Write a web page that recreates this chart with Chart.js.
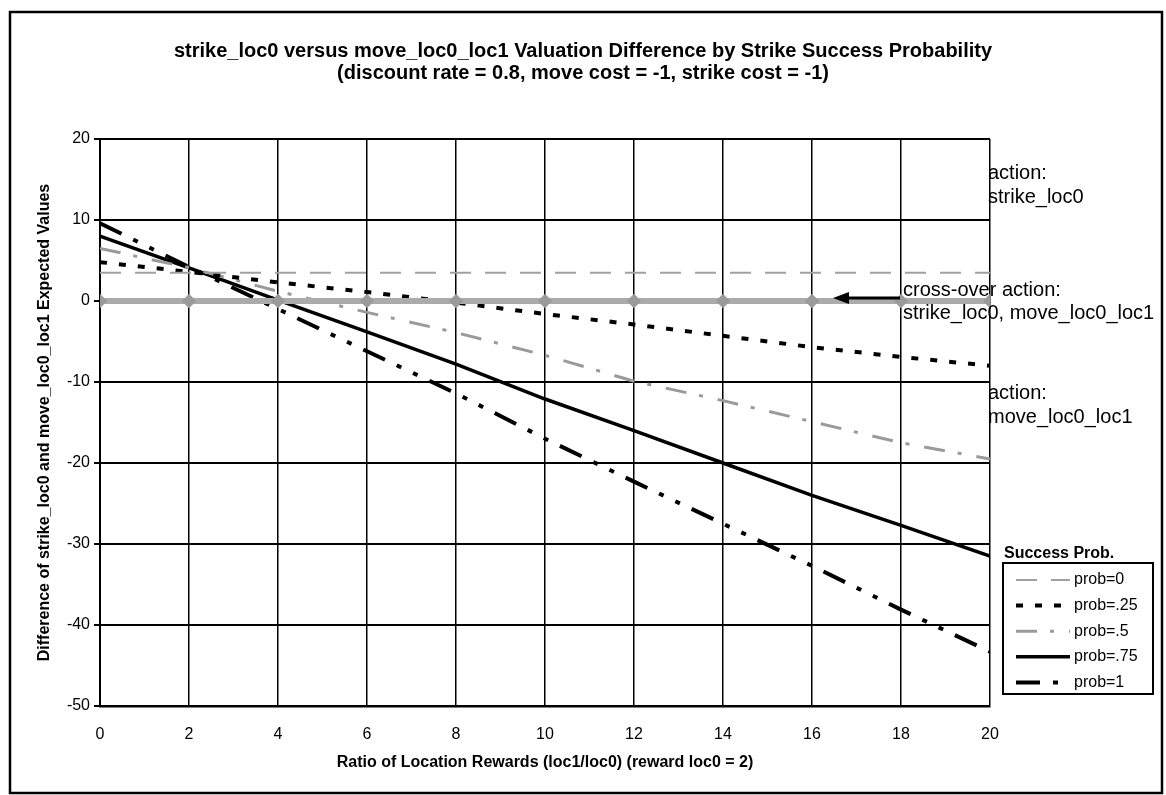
<!DOCTYPE html>
<html>
<head>
<meta charset="utf-8">
<title>strike_loc0 versus move_loc0_loc1</title>
<script src="https://cdn.jsdelivr.net/npm/chart.js@4.4.0/dist/chart.umd.min.js"></script>
<style>
    html, body { margin: 0; padding: 0; background: #fff; }
    #wrap { width: 1166px; height: 795px; }
</style>
</head>
<body>
<div id="wrap"><canvas id="chart" width="1166" height="795"></canvas></div>
<script>
// Ratio of location rewards (x values)
const ratios = [0, 2, 4, 6, 8, 10, 12, 14, 16, 18, 20];

// Valuation difference per strike success probability
const prob0   = [3.5, 3.5, 3.5, 3.5, 3.5, 3.5, 3.5, 3.5, 3.5, 3.5, 3.5];
const prob25  = [4.8, 3.6, 2.3, 1.1, -0.2, -1.6, -2.9, -4.3, -5.7, -6.9, -8.0];
const prob50  = [6.5, 4.1, 1.2, -1.4, -3.9, -6.7, -9.9, -12.3, -14.9, -17.5, -19.5];
const prob75  = [8.0, 4.1, 0.1, -3.8, -7.8, -12.1, -16.0, -20.0, -24.0, -27.7, -31.5];
const prob100 = [9.6, 4.2, -1.0, -6.2, -11.4, -17.0, -22.3, -27.5, -32.7, -38.1, -43.3];
const crossOver = [0, 0, 0, 0, 0, 0, 0, 0, 0, 0, 0];

const xTicks = [0, 2, 4, 6, 8, 10, 12, 14, 16, 18, 20];
const yTicks = [20, 10, 0, -10, -20, -30, -40, -50];

const FONT = '"Liberation Sans", Arial, sans-serif';

function points(values) {
    return ratios.map((r, i) => ({ x: r, y: values[i] }));
}

// Title, annotations, arrow, legend box and outer frame
const decorPlugin = {
    id: 'decor',
    afterDraw(chart) {
        const ctx = chart.ctx;
        ctx.save();
        ctx.fillStyle = '#000';
        ctx.textBaseline = 'middle';

        // title
        ctx.textAlign = 'center';
        ctx.font = 'bold 20px ' + FONT;
        ctx.fillText('strike_loc0 versus move_loc0_loc1 Valuation Difference by Strike Success Probability', 583, 51);
        ctx.fillText('(discount rate = 0.8, move cost = -1, strike cost = -1)', 583, 73);

        // region notes
        ctx.textAlign = 'left';
        ctx.font = '20px ' + FONT;
        ctx.fillText('action:', 988, 173);
        ctx.fillText('strike_loc0', 988, 197);
        ctx.fillText('cross-over action:', 903, 290);
        ctx.fillText('strike_loc0, move_loc0_loc1', 903, 313);
        ctx.fillText('action:', 988, 393);
        ctx.fillText('move_loc0_loc1', 988, 417);

        // arrow
        ctx.strokeStyle = '#000';
        ctx.lineWidth = 3;
        ctx.beginPath();
        ctx.moveTo(900, 298);
        ctx.lineTo(846, 298);
        ctx.stroke();
        ctx.beginPath();
        ctx.moveTo(833, 298);
        ctx.lineTo(849, 292);
        ctx.lineTo(849, 304);
        ctx.closePath();
        ctx.fill();

        // legend
        ctx.font = 'bold 16px ' + FONT;
        ctx.fillText('Success Prob.', 1004, 554);
        ctx.lineWidth = 2;
        ctx.strokeRect(1003, 563, 150, 131);
        ctx.font = '16px ' + FONT;
        const items = chart.data.datasets.filter(ds => ds.inLegend);
        items.forEach((ds, i) => {
            const y = 580 + i * 25.6;
            ctx.save();
            ctx.strokeStyle = ds.borderColor;
            ctx.lineWidth = ds.borderWidth;
            ctx.setLineDash(ds.borderDash || []);
            ctx.beginPath();
            ctx.moveTo(1016, y);
            ctx.lineTo(1070, y);
            ctx.stroke();
            ctx.restore();
            ctx.fillText(ds.label, 1074, y);
        });

        // outer frame
        ctx.lineWidth = 2.5;
        ctx.strokeRect(10, 12, 1152, 781);
        ctx.restore();
    }
};

new Chart(document.getElementById('chart').getContext('2d'), {
    type: 'line',
    data: {
        datasets: [
            {
                label: 'cross-over',
                data: points(crossOver),
                borderColor: '#ababab',
                borderWidth: 6,
                pointStyle: 'rectRot',
                pointRadius: 3,
                pointBackgroundColor: '#9a9a9a',
                pointBorderColor: '#9a9a9a',
                inLegend: false
            },
            {
                label: 'prob=0',
                data: points(prob0),
                borderColor: '#a0a0a0',
                borderWidth: 2,
                borderDash: [21, 14],
                pointRadius: 0,
                inLegend: true
            },
            {
                label: 'prob=.25',
                data: points(prob25),
                borderColor: '#000',
                borderWidth: 4,
                borderDash: [7, 12],
                pointRadius: 0,
                inLegend: true
            },
            {
                label: 'prob=.5',
                data: points(prob50),
                borderColor: '#9a9a9a',
                borderWidth: 3,
                borderDash: [21, 13, 4, 15],
                pointRadius: 0,
                inLegend: true
            },
            {
                label: 'prob=.75',
                data: points(prob75),
                borderColor: '#000',
                borderWidth: 3.5,
                pointRadius: 0,
                inLegend: true
            },
            {
                label: 'prob=1',
                data: points(prob100),
                borderColor: '#000',
                borderWidth: 4,
                borderDash: [24, 13, 5, 13, 5, 13],
                pointRadius: 0,
                inLegend: true
            }
        ]
    },
    options: {
        responsive: false,
        animation: false,
        devicePixelRatio: 1,
        layout: { padding: { left: 0, top: 139, right: 176, bottom: 0 } },
        plugins: {
            legend: { display: false },
            title: { display: false },
            tooltip: { enabled: false }
        },
        scales: {
            x: {
                type: 'linear',
                min: 0,
                max: 20,
                afterBuildTicks: axis => { axis.ticks = xTicks.map(v => ({ value: v })); },
                afterFit: scale => { scale.height = 89; },
                grid: { color: '#000', lineWidth: 1.5, drawTicks: false },
                border: { color: '#000', width: 2.5 },
                ticks: { color: '#000', font: { family: FONT, size: 16 }, padding: 19, maxRotation: 0 },
                title: {
                    display: true,
                    text: 'Ratio of Location Rewards (loc1/loc0) (reward loc0 = 2)',
                    color: '#000',
                    font: { family: FONT, size: 16, weight: 'bold' },
                    padding: { top: 0, bottom: 23 }
                }
            },
            y: {
                min: -50,
                max: 20,
                afterBuildTicks: axis => { axis.ticks = yTicks.map(v => ({ value: v })); },
                afterFit: scale => { scale.width = 100; },
                grid: { color: '#000', lineWidth: 2, tickLength: 6 },
                border: { color: '#000', width: 2 },
                ticks: { color: '#000', font: { family: FONT, size: 16 }, padding: 4 },
                title: {
                    display: true,
                    text: 'Difference of strike_loc0 and move_loc0_loc1 Expected Values',
                    color: '#000',
                    font: { family: FONT, size: 16, weight: 'bold' },
                    padding: { top: 35, bottom: 0 }
                }
            }
        }
    },
    plugins: [decorPlugin]
});
</script>
</body>
</html>
